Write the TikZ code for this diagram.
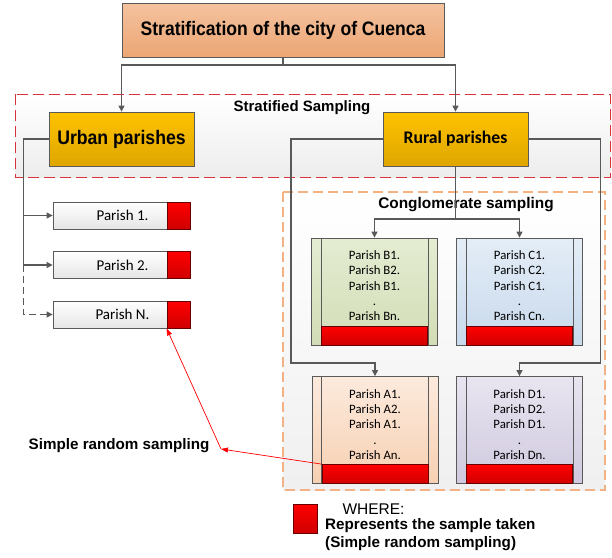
\documentclass[tikz,border=0pt]{standalone}
\usepackage{fontspec}
\setmainfont{Liberation Sans}
\newfontfamily\narrowfont[FakeStretch=0.9]{Liberation Sans}
\newfontfamily\parishfont{Carlito}
\usetikzlibrary{arrows.meta,calc}
\definecolor{linkgray}{HTML}{595959}
\definecolor{edgegray}{HTML}{5A5A5A}
\definecolor{peachtop}{HTML}{F4C29F}
\definecolor{peachbot}{HTML}{ECA673}
\definecolor{goldtop}{HTML}{FFC200}
\definecolor{goldbot}{HTML}{DEA600}
\definecolor{stratred}{HTML}{D9343C}
\definecolor{congorange}{HTML}{F4B183}
\definecolor{samplered}{HTML}{FF0000}
\definecolor{sampledark}{HTML}{D00000}
\definecolor{greentop}{HTML}{E4ECD2}
\definecolor{greenbot}{HTML}{D2DDB6}
\definecolor{bluetop}{HTML}{E4EDF7}
\definecolor{bluebot}{HTML}{C8D9EC}
\definecolor{apricottop}{HTML}{FCEADD}
\definecolor{apricotbot}{HTML}{F7D0B2}
\definecolor{lilactop}{HTML}{E8E5F0}
\definecolor{lilacbot}{HTML}{D0C9DF}
\tikzset{
	link/.style={draw=linkgray, line width=1.1pt, -{Triangle[length=6pt,width=6pt]}},
	boxline/.style={draw=edgegray, line width=0.8pt},
	citybox/.style={boxline, top color=peachtop, bottom color=peachbot,
			minimum width=322pt, minimum height=54pt,
			font=\narrowfont\bfseries\fontsize{19.5}{21}\selectfont},
	stratum/.style={boxline, top color=goldtop, bottom color=goldbot,
			minimum width=145pt, minimum height=54pt},
	parishbox/.style={boxline, top color=white, bottom color=black!10,
			minimum width=137pt, minimum height=27pt,
			font=\parishfont\fontsize{15}{17}\selectfont},
	samplebar/.style={draw=black!60!red, line width=0.8pt,
			top color=samplered, bottom color=sampledark},
	cluster/.style={boxline, minimum width=126pt, minimum height=107pt},
	clustertext/.style={inner sep=0pt, align=center,
			font=\parishfont\fontsize{12.8}{15.3}\selectfont},
	heading/.style={font=\bfseries\fontsize{15.2}{18}\selectfont},
	redarrow/.style={draw=red, line width=0.7pt, -{Triangle[length=7pt,width=5pt]}}
}

\begin{document}
\begin{tikzpicture}[x=1pt, y=-1pt]
		\useasboundingbox (0,0) rectangle (612,557);
		% Frames
		\draw[stratred, line width=1pt, dash pattern=on 11pt off 5pt,
			top color=white, bottom color=black!7] (15,94) rectangle (610.5,177);
		\draw[congorange, line width=1.4pt, dash pattern=on 10pt off 5pt,
			top color=white, bottom color=black!6] (283,192) rectangle (605,490);
		\node[font=\bfseries\fontsize{15}{18}\selectfont] (stratlabel) at (302,108) {Stratified Sampling};
		\node[heading, font=\bfseries\fontsize{15.4}{18}\selectfont] (conglabel) at (466,205) {Conglomerate sampling};
		% Strata
		\node[citybox] (city) at (283,30) {Stratification of the city of Cuenca};
		\node[stratum, font=\narrowfont\bfseries\fontsize{19.6}{22}\selectfont] (urban) at (121.5,139) {Urban parishes};
		\node[stratum, font=\parishfont\bfseries\fontsize{17.7}{20}\selectfont] (rural) at (455.5,139) {Rural parishes};
		\coordinate (split) at (283,65);
		\draw[link] (city.south) -- (split) -| (urban.north);
		\draw[link] (split) -| (rural.north);
		% Urban parishes
		\foreach \name/\y/\txt in {p1/215.5/Parish 1., p2/265/Parish 2., pN/314.5/Parish N.} {
			\node[parishbox] (\name) at (121.5,\y) {\hspace*{2pt}\txt};
			\node[samplebar, anchor=east, minimum width=23pt, minimum height=27pt] (s\name) at (\name.east) {};
		}
		\coordinate (ubus) at (23.5,0);
		\draw[link] (urban.west) -| (ubus |- p1.west) -- (p1.west);
		\draw[link] (ubus |- p1.west) |- (p2.west);
		\draw[link, dash pattern=on 7pt off 4pt] (ubus |- p2.west) |- (pN.west);
		% Rural parishes: clusters
		\foreach \name/\x/\y/\ct/\cb/\lt in {B/374.5/291.5/greentop/greenbot/B, C/519.5/291.5/bluetop/bluebot/C,
				A/375/430/apricottop/apricotbot/A, D/519.5/430/lilactop/lilacbot/D} {
			\node[cluster, top color=\ct, bottom color=\cb] (\name) at (\x,\y) {};
			\draw[boxline] ($(\name.north west)+(10,0)$) -- ($(\name.south west)+(10,0)$);
			\draw[boxline] ($(\name.north east)+(-10,0)$) -- ($(\name.south east)+(-10,0)$);
			\node[samplebar, anchor=south, minimum width=106pt, minimum height=19pt] (bar\name) at (\name.south) {};
			\node[clustertext, anchor=north] (txt\name) at ($(\name.north)+(0,13)$)
			{Parish \lt1.\\Parish \lt2.\\Parish \lt1.\\.\\Parish \lt n.};
		}
		\coordinate (rsplit) at (455.5,219);
		\coordinate (rleft) at (291,363);
		\coordinate (rright) at (600.5,363);
		\draw[link] (rural.south) -- (rsplit) -| (B.north);
		\draw[link] (rsplit) -| (C.north);
		\draw[link] (rural.west) -| (rleft) -| (A.north);
		\draw[link] (rural.east) -| (rright) -| (D.north);
		% Simple random sampling
		\coordinate (srs) at (221,449);
		\node[heading, anchor=east] (srslabel) at (213,446) {Simple random sampling};
		\draw[redarrow] (barA.north west) -- (srs);
		\draw[redarrow] (srs) -- (spN.south west);
		% Legend
		\node[samplebar, minimum width=24pt, minimum height=29pt] (key) at (305,518.5) {};
		\node[anchor=west, font=\fontsize{15.5}{18}\selectfont] (where) at (339,509) {WHERE:};
		\node[anchor=north west, align=left, inner sep=0pt, heading] (keytext) at (325,518)
		{Represents the sample taken\\(Simple random sampling)};
	\end{tikzpicture}
\end{document}
